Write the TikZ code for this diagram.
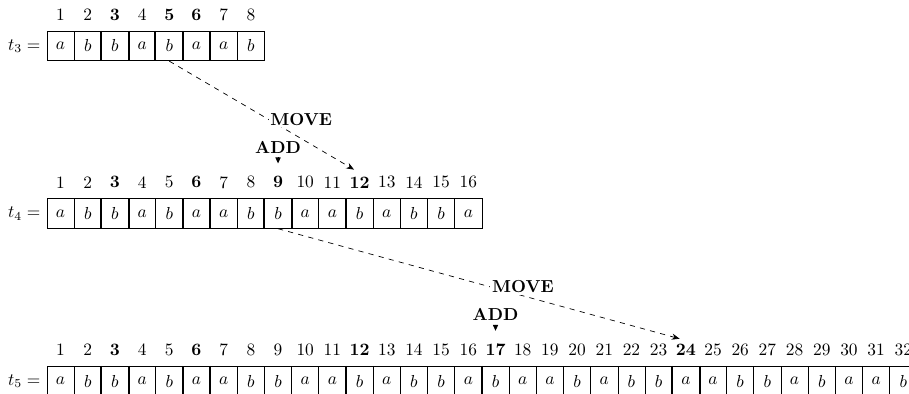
\documentclass[tikz,border=0pt]{standalone}
\usetikzlibrary{positioning,arrows.meta}
\tikzset{
  cell/.style={draw, minimum width=0.55cm, minimum height=0.6cm, inner sep=0pt},
  num/.style={inner sep=2pt},
  hl/.style={line width=1.1pt},
  move/.style={dashed, -{Stealth[length=4.5pt,width=3.5pt]}, shorten >=3.7pt},
  movetxt/.style={pos=0.52, anchor=west, fill=white, inner sep=1pt, font=\bfseries},
  op/.style={font=\bfseries, inner sep=1pt},
  optip/.style={-{Triangle[length=3.4pt,width=3pt]}, shorten >=5.4pt, shorten <=1pt}
}
\begin{document}
\begin{tikzpicture}
\useasboundingbox (-0.95,0.93) rectangle (17.44,-7.04);
% t_3
\foreach \l [count=\i] in {a,b,b,a,b,a,a,b}
  \node[cell] (c3-\i) at (\i*0.55-0.275,0) {$\l$};
\foreach \i in {1,2,4,7,8}
  \node[num] (n3-\i) at (\i*0.55-0.275,0.63) {\i};
\foreach \i in {3,5,6}{
  \node[num,font=\bfseries] (n3-\i) at (\i*0.55-0.275,0.63) {\i};
  \draw[hl] (c3-\i.north west) -- (c3-\i.south west) (c3-\i.north east) -- (c3-\i.south east);
}
\node[left] (t3) at (c3-1.west) {$t_3 =$};
% t_4
\foreach \l [count=\i] in {a,b,b,a,b,a,a,b,b,a,a,b,a,b,b,a}
  \node[cell] (c4-\i) at (\i*0.55-0.275,-3.39) {$\l$};
\foreach \i in {1,2,4,5,7,8,10,11,13,14,15,16}
  \node[num] (n4-\i) at (\i*0.55-0.275,-2.76) {\i};
\foreach \i in {3,6,9,12}{
  \node[num,font=\bfseries] (n4-\i) at (\i*0.55-0.275,-2.76) {\i};
  \draw[hl] (c4-\i.north west) -- (c4-\i.south west) (c4-\i.north east) -- (c4-\i.south east);
}
\node[left] (t4) at (c4-1.west) {$t_4 =$};
% t_5
\foreach \l [count=\i] in {a,b,b,a,b,a,a,b,b,a,a,b,a,b,b,a,b,a,a,b,a,b,b,a,a,b,b,a,b,a,a,b}
  \node[cell] (c5-\i) at (\i*0.55-0.275,-6.78) {$\l$};
\foreach \i in {1,2,4,5,7,8,9,10,11,13,14,15,16,18,19,20,21,22,23,25,26,27,28,29,30,31,32}
  \node[num] (n5-\i) at (\i*0.55-0.275,-6.15) {\i};
\foreach \i in {3,6,12,17,24}{
  \node[num,font=\bfseries] (n5-\i) at (\i*0.55-0.275,-6.15) {\i};
  \draw[hl] (c5-\i.north west) -- (c5-\i.south west) (c5-\i.north east) -- (c5-\i.south east);
}
\node[left] (t5) at (c5-1.west) {$t_5 =$};
% operations
\draw[move] (c3-5.south) -- node[movetxt] {MOVE} (n4-12.north);
\draw[move] (c4-9.south) -- node[movetxt] {MOVE} (n5-24.north);
\node[op, above=3.5mm of n4-9] (add4) {ADD};
\draw[optip] (add4) -- (n4-9);
\node[op, above=3.5mm of n5-17] (add5) {ADD};
\draw[optip] (add5) -- (n5-17);
\end{tikzpicture}
\end{document}
